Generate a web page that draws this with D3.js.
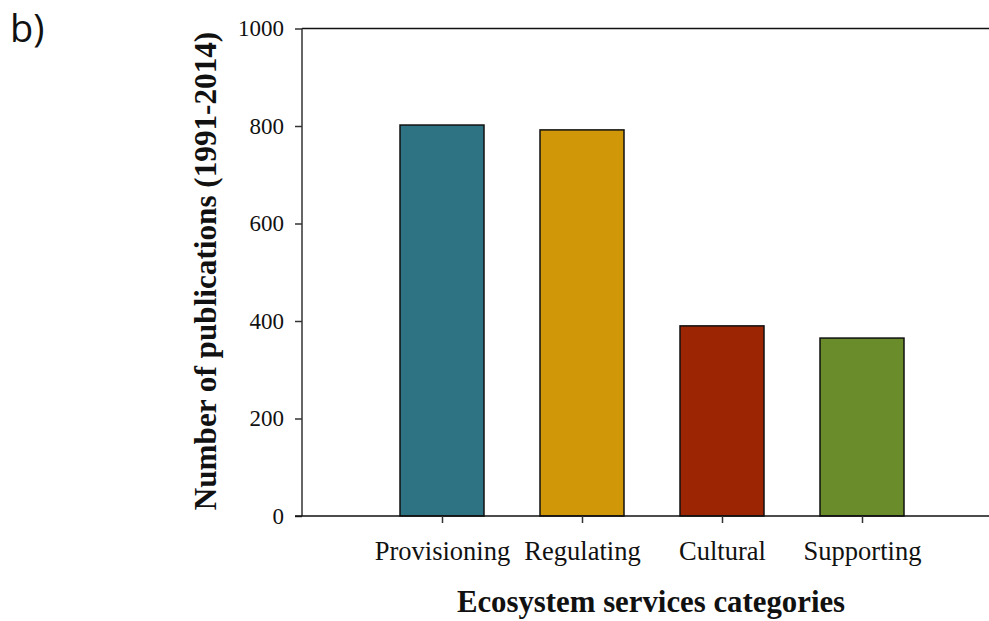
<!DOCTYPE html>
<html>
<head>
<meta charset="utf-8">
<script src="https://cdn.jsdelivr.net/npm/d3@7"></script>
<style>
  html, body { margin: 0; padding: 0; background: #fff; }
  svg { display: block; }
</style>
</head>
<body>
<svg id="chart" width="989" height="621"></svg>
<script>
// Publications per ecosystem service category
const categories = ["Provisioning", "Regulating", "Cultural", "Supporting"];
const publications = [802, 792, 390, 365];
const barColors = ["#2e7384", "#d09808", "#9c2504", "#6b8c2b"];
const yTicks = [0, 200, 400, 600, 800, 1000];

const svg = d3.select("#chart");
const serif = "'Liberation Serif', 'Times New Roman', serif";

const plot = { left: 302, right: 1002, top: 28.5, bottom: 516 };

// Categories sit at positions 1..4 on a 0..5 axis
const x = d3.scaleLinear().domain([0, 5]).range([plot.left, plot.right]);
const y = d3.scaleLinear().domain([0, 1000]).range([plot.bottom, plot.top]);
const barWidth = 0.6;

// Bars
svg.append("g")
  .selectAll("rect")
  .data(publications)
  .join("rect")
  .attr("x", (d, i) => x(i + 1 - barWidth / 2))
  .attr("width", (d, i) => x(i + 1 + barWidth / 2) - x(i + 1 - barWidth / 2))
  .attr("y", d => y(d))
  .attr("height", d => y(0) - y(d))
  .attr("fill", (d, i) => barColors[i])
  .attr("stroke", "#111")
  .attr("stroke-width", 1.5);

// Top frame line
svg.append("line")
  .attr("x1", x(0)).attr("x2", x(5))
  .attr("y1", y(1000)).attr("y2", y(1000))
  .attr("stroke", "#111").attr("stroke-width", 1.5);

// Y axis
const yAxis = svg.append("g")
  .attr("transform", `translate(${plot.left},0)`)
  .call(d3.axisLeft(y).tickValues(yTicks).tickSize(7).tickPadding(11).tickFormat(d3.format("d")));
yAxis.select(".domain").attr("stroke", "#333").attr("stroke-width", 1.5).attr("d", `M0,${plot.bottom}V${plot.top}`);
yAxis.selectAll(".tick line").attr("stroke", "#333").attr("stroke-width", 1.5);
yAxis.selectAll(".tick text").attr("font-family", serif).attr("font-size", 23).attr("fill", "#111");

// X axis
const xAxis = svg.append("g")
  .attr("transform", `translate(0,${plot.bottom})`)
  .call(d3.axisBottom(x).tickValues([1, 2, 3, 4]).tickSize(7).tickPadding(18)
    .tickFormat(d => categories[d - 1]));
xAxis.select(".domain").attr("stroke", "#111").attr("stroke-width", 1.5)
  .attr("d", `M${plot.left - 7},0H${plot.right}`);
xAxis.selectAll(".tick line").attr("stroke", "#333").attr("stroke-width", 1.5);
xAxis.selectAll(".tick text").attr("font-family", serif).attr("font-size", 26.5).attr("fill", "#111");

// Axis titles
svg.append("text")
  .attr("x", 651).attr("y", 612)
  .attr("text-anchor", "middle")
  .attr("font-family", serif).attr("font-weight", "bold").attr("font-size", 30.8)
  .attr("fill", "#111")
  .text("Ecosystem services categories");

svg.append("text")
  .attr("transform", "translate(216,271) rotate(-90)")
  .attr("text-anchor", "middle")
  .attr("font-family", serif).attr("font-weight", "bold").attr("font-size", 31.2)
  .attr("fill", "#111")
  .text("Number of publications (1991-2014)");

// Panel label
svg.append("text")
  .attr("x", 10).attr("y", 42)
  .attr("font-family", "'Open Sans', 'Liberation Sans', sans-serif").attr("font-size", 38)
  .attr("fill", "#111")
  .text("b)");
</script>
</body>
</html>
